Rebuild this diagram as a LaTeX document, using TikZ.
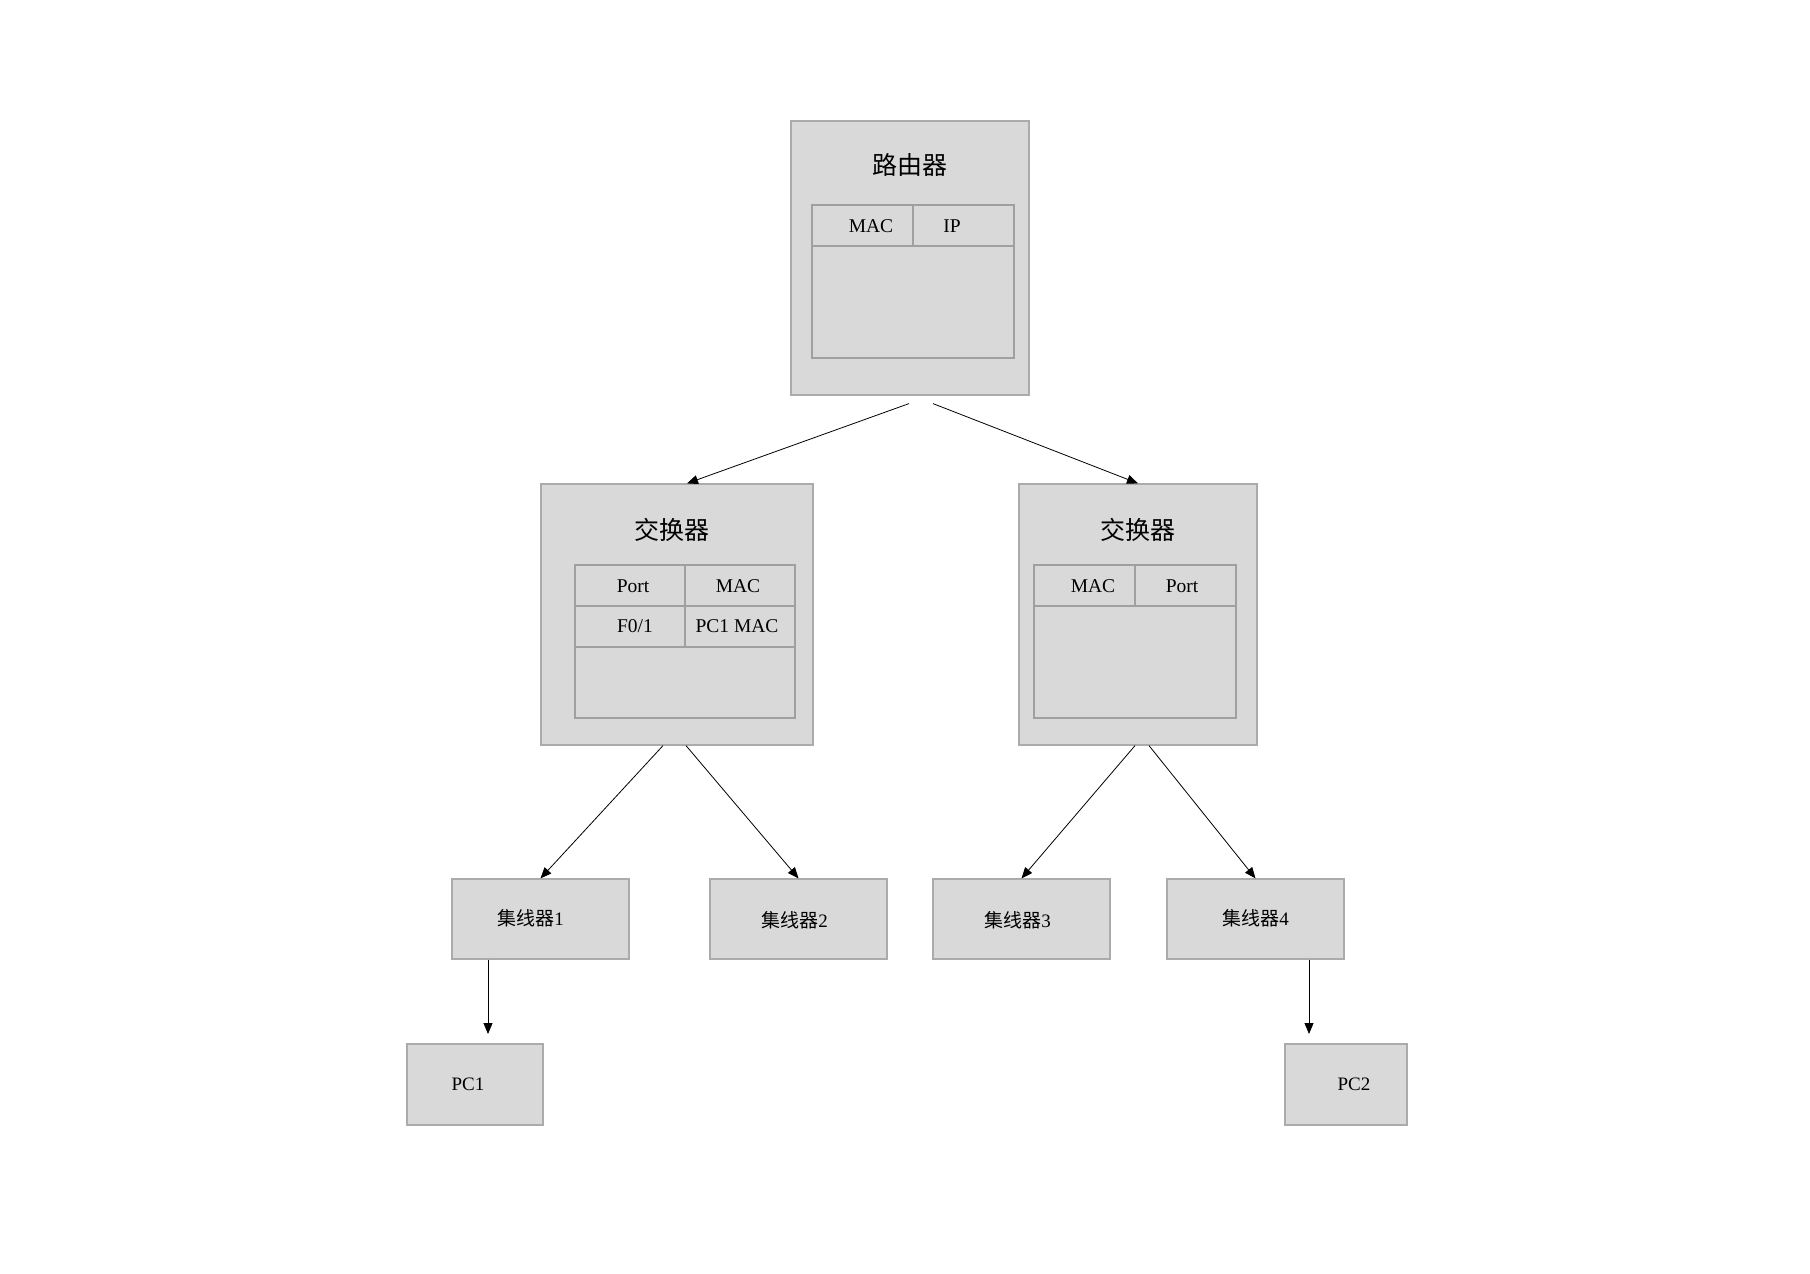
\documentclass[tikz,border=0pt]{standalone}
\usepackage{fontspec}
\setmainfont{Liberation Serif}
\newfontfamily\cjk{Noto Sans CJK SC}
\usetikzlibrary{arrows.meta,calc}
\definecolor{boxfill}{HTML}{D9D9D9}
\definecolor{boxline}{HTML}{ABABAB}
\definecolor{tabline}{HTML}{A0A0A0}
\tikzset{
  devbox/.style={draw=boxline, fill=boxfill, line width=1.2pt, inner sep=0pt, anchor=center},
  tabbox/.style={draw=tabline, line width=1.1pt},
  ttl/.style={font=\fontsize{25}{30}\selectfont\cjk, inner sep=0pt},
  cell/.style={font=\fontsize{19.5}{24}\selectfont, inner sep=0pt},
  lbl/.style={font=\fontsize{19}{24}\selectfont, inner sep=0pt},
  conn/.style={line width=0.8pt, -{Triangle[length=11pt,width=9pt]}},
}
\begin{document}
\begin{tikzpicture}[x=1pt,y=-1pt]
\useasboundingbox (0,0) rectangle (1810,1274);
% devices
\node[devbox, minimum width=238pt, minimum height=274pt] (router) at (910,258) {};
\node[devbox, minimum width=272pt, minimum height=261pt] (sw1) at (677,614.5) {};
\node[devbox, minimum width=238pt, minimum height=261pt] (sw2) at (1138,614.5) {};
\node[devbox, minimum width=177pt, minimum height=80pt, label={[lbl, xshift=-10pt, yshift=1pt]center:{{\cjk 集线器}1}}] (hub1) at (540.5,919) {};
\node[devbox, minimum width=177pt, minimum height=80pt, label={[lbl, xshift=-4pt, yshift=-1pt]center:{{\cjk 集线器}2}}] (hub2) at (798.5,919) {};
\node[devbox, minimum width=177pt, minimum height=80pt, label={[lbl, xshift=-4pt, yshift=-1pt]center:{{\cjk 集线器}3}}] (hub3) at (1021.5,919) {};
\node[devbox, minimum width=177pt, minimum height=80pt, label={[lbl, xshift=0pt, yshift=1pt]center:{{\cjk 集线器}4}}] (hub4) at (1255.5,919) {};
\node[devbox, minimum width=136pt, minimum height=81pt, label={[lbl, xshift=-7pt]center:PC1}] (pc1) at (475,1084.5) {};
\node[devbox, minimum width=122pt, minimum height=81pt, label={[lbl, xshift=8pt]center:PC2}] (pc2) at (1346,1084.5) {};
% router contents
\node[ttl] (rtitle) at (909.5,165) {路由器};
\draw[tabbox] (812,205) rectangle (1014,358);
\draw[tabbox] (812,246) -- (1014,246);
\draw[tabbox] (913,205) -- (913,246);
\node[cell] (rmac) at (871,226) {MAC};
\node[cell] (rip) at (952,226) {IP};
% switch 1 contents
\node[ttl] (s1title) at (672,530) {交换器};
\draw[tabbox] (575,565) rectangle (795,718);
\draw[tabbox] (575,606) -- (795,606);
\draw[tabbox] (575,647) -- (795,647);
\draw[tabbox] (685,565) -- (685,647);
\node[cell] (s1port) at (633,586) {Port};
\node[cell] (s1mac) at (738,586) {MAC};
\node[cell] (s1f) at (635,626) {F0/1};
\node[cell] (s1pc) at (737,626) {PC1 MAC};
% switch 2 contents
\node[ttl] (s2title) at (1138,530) {交换器};
\draw[tabbox] (1034,565) rectangle (1236,718);
\draw[tabbox] (1034,606) -- (1236,606);
\draw[tabbox] (1135,565) -- (1135,606);
\node[cell] (s2mac) at (1093,586) {MAC};
\node[cell] (s2port) at (1182,586) {Port};
% connectors
\coordinate (ra) at ([xshift=-1pt, yshift=-8pt]router.south);
\coordinate (rb) at ([xshift=23pt, yshift=-8pt]router.south);
\draw[conn] (ra) -- ([xshift=10pt]sw1.north);
\draw[conn] (rb) -- (sw2.north);
\draw[conn] ([xshift=-14pt]sw1.south) -- (hub1.north);
\draw[conn] ([xshift=9pt]sw1.south) -- (hub2.north);
\draw[conn] ([xshift=-3pt]sw2.south) -- (hub3.north);
\draw[conn] ([xshift=11pt]sw2.south) -- (hub4.north);
\coordinate (p1) at (488,1034);
\coordinate (p2) at (1309,1034);
\draw[conn] (hub1.south -| p1) -- (p1);
\draw[conn] (hub4.south -| p2) -- (p2);
\end{tikzpicture}
\end{document}
